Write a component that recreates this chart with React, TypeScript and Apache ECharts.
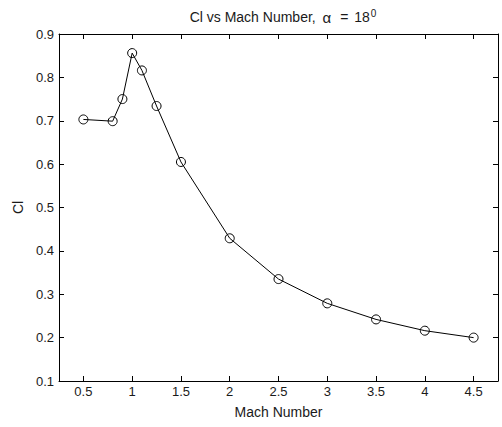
import React, { useEffect, useRef } from "react";
import * as echarts from "echarts";

const machNumbers = [0.5, 0.8, 0.9, 1.0, 1.1, 1.25, 1.5, 2.0, 2.5, 3.0, 3.5, 4.0, 4.5];
const clValues = [0.703, 0.699, 0.75, 0.856, 0.816, 0.734, 0.605, 0.429, 0.335, 0.279, 0.242, 0.216, 0.2];
const xTicks = [0.5, 1, 1.5, 2, 2.5, 3, 3.5, 4, 4.5];
const yTicks = [0.1, 0.2, 0.3, 0.4, 0.5, 0.6, 0.7, 0.8, 0.9];

const FONT = "Liberation Sans, Arial, sans-serif";
const TXT = "#1a1a1a";

export default function App() {
  const ref = useRef<HTMLDivElement>(null);
  useEffect(() => {
    document.body.style.margin = "0";
    const chart = echarts.init(ref.current!, undefined, { renderer: "svg" });
    const fmtX = (v: number) => String(v);
    const fmtY = (v: number) => v.toFixed(1);
    const baseX = {
      type: "value" as const,
      min: 0.25,
      max: 4.75,
      axisLine: { show: true, onZero: false, lineStyle: { color: "#000", width: 1 } },
      axisTick: { show: true, inside: true, length: 5, customValues: xTicks, lineStyle: { color: "#000" } },
      splitLine: { show: false },
    };
    const baseY = {
      type: "value" as const,
      min: 0.1,
      max: 0.9,
      axisLine: { show: true, onZero: false, lineStyle: { color: "#000", width: 1 } },
      axisTick: { show: true, inside: true, length: 5, customValues: yTicks, lineStyle: { color: "#000" } },
      splitLine: { show: false },
    };
    chart.setOption({
      animation: false,
      backgroundColor: "#fff",
      title: {
        text: "Cl vs Mach Number, {a|α} {e|=} 18{sup|0}",
        left: 278,
        textAlign: "center",
        top: 3,
        textStyle: {
          fontFamily: FONT,
          fontSize: 14,
          fontWeight: "normal",
          color: TXT,
          rich: {
            a: { fontFamily: FONT, fontSize: 15, color: TXT, padding: [0, 3, 0, 3] },
            e: { fontFamily: FONT, fontSize: 14, color: TXT, padding: [0, 2, 0, 2] },
            sup: { fontFamily: FONT, fontSize: 10, color: TXT, verticalAlign: "top", padding: [0, 0, 8, 1] },
          },
        },
      },
      grid: { left: 59, top: 34, right: 4, bottom: 46, containLabel: false },
      xAxis: [
        {
          ...baseX,
          position: "bottom",
          name: "Mach Number",
          nameLocation: "middle",
          nameGap: 24,
          nameTextStyle: { fontFamily: FONT, fontSize: 14, color: TXT },
          axisLabel: {
            customValues: xTicks,
            formatter: fmtX,
            fontFamily: FONT,
            fontSize: 13,
            color: TXT,
            margin: 4,
          },
        },
        {
          ...baseX,
          position: "top",
          axisLabel: { show: false },
        },
      ],
      yAxis: [
        {
          ...baseY,
          position: "left",
          name: "Cl",
          nameLocation: "middle",
          nameGap: 34,
          nameTextStyle: { fontFamily: FONT, fontSize: 14, color: TXT },
          axisLabel: {
            customValues: yTicks,
            formatter: fmtY,
            fontFamily: FONT,
            fontSize: 13,
            color: TXT,
            margin: 5,
          },
        },
        {
          ...baseY,
          position: "right",
          axisLabel: { show: false },
        },
      ],
      series: [
        {
          type: "line",
          data: machNumbers.map((m, i) => [m, clValues[i]]),
          xAxisIndex: 0,
          yAxisIndex: 0,
          symbol: "circle",
          symbolSize: 9,
          showSymbol: true,
          lineStyle: { color: "#000", width: 1 },
          itemStyle: { color: "rgba(255,255,255,0)", borderColor: "#000", borderWidth: 1 },
          emphasis: { disabled: true },
          z: 3,
        },
      ],
    });
    return () => chart.dispose();
  }, []);
  return <div ref={ref} style={{ position: "fixed", left: 0, top: 0, width: 502, height: 427 }} />;
}
